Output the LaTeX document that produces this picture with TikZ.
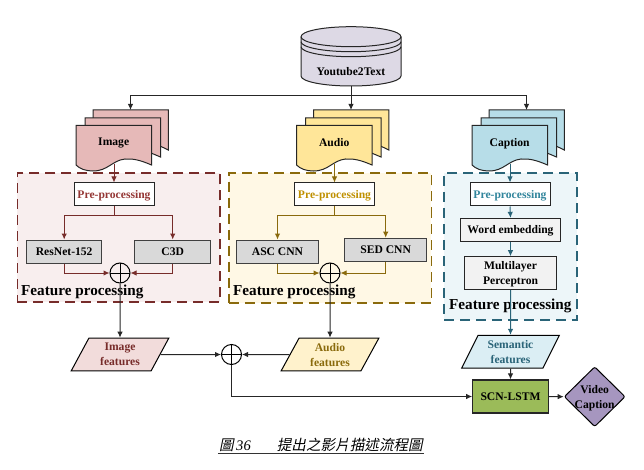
\documentclass[tikz,border=0pt]{standalone}
\usepackage{fontspec}
\usepackage{xcolor}
\setmainfont{Liberation Serif}
\newfontfamily\cjkfont[FakeSlant=0.2]{Noto Sans CJK TC}
\usetikzlibrary{shapes.geometric,arrows.meta}

\definecolor{imgline}{HTML}{772C2A}
\definecolor{imgtext}{HTML}{953735}
\definecolor{imgfill}{HTML}{E6B9B8}
\definecolor{imgpale}{HTML}{F8EEEE}
\definecolor{imgfeat}{HTML}{F2DCDB}
\definecolor{audline}{HTML}{8A6A0C}
\definecolor{audtext}{HTML}{BF9000}
\definecolor{audfill}{HTML}{FFE699}
\definecolor{audpale}{HTML}{FFF8E5}
\definecolor{audfeat}{HTML}{FFF2CC}
\definecolor{capline}{HTML}{2A6478}
\definecolor{captext}{HTML}{31859C}
\definecolor{capfill}{HTML}{B7DDE8}
\definecolor{cappale}{HTML}{EDF6F9}
\definecolor{capfeat}{HTML}{DBEEF4}
\definecolor{dbfill}{HTML}{DDD9E5}
\definecolor{lstmfill}{HTML}{9BBB59}
\definecolor{videofill}{HTML}{A696BF}

\tikzset{
  >={Latex[length=6pt,width=5.5pt]},
  main/.style={line width=1pt, black!85},
  label/.style={font=\fontsize{11.6}{15}\selectfont\bfseries, align=center, inner sep=0pt, text depth=0pt},
  title/.style={font=\fontsize{15.2}{18}\selectfont\bfseries, inner sep=0pt, anchor=west},
  group/.style={draw=#1, line width=1.7pt, dash pattern=on 10pt off 6pt},
  prebox/.style={label, draw=black!85, line width=1pt, fill=white, minimum width=80pt, minimum height=23pt},
  netbox/.style={label, draw=black!75, line width=1pt, fill=black!15, minimum width=#1, minimum height=23pt},
  sumnode/.style={circle, draw=black, line width=1pt, minimum size=20pt, inner sep=0pt,
    path picture={\draw[line width=0.8pt] (path picture bounding box.north) -- (path picture bounding box.south)
      (path picture bounding box.west) -- (path picture bounding box.east);}},
  featnode/.style={label, trapezium, trapezium left angle=63.5, trapezium right angle=116.5, trapezium stretches,
    draw=black, line width=1pt, minimum width=98pt, minimum height=32.7pt},
}

% One stack of three sheets, shifted along x
\newcommand{\docstack}[4]{
\begin{scope}[xshift=#2pt]
\draw[main, fill=#3] (93,125) -- (93,110) -- (168.3,110) -- (168.3,150) -- (160,146) -- (93,146) -- cycle;
\draw[main, fill=#3] (85,125) -- (85,118) -- (160.5,118) -- (160.5,157) -- (151,153) -- (85,153) -- cycle;
\draw[main, fill=#3] (76,125.5) -- (151.5,125.5) -- (151.5,165) .. controls (140,160) and (133,158.5) .. (125,159)
  .. controls (112,160.5) and (108,171) .. (93,171) .. controls (86,171) and (80,169) .. (76,165) -- cycle;
\node[label] (#1) at (113.7,142) {#4};
\coordinate (#1top) at (130.5,110);
\coordinate (#1low) at (114,164);
\end{scope}
}

\begin{document}
\begin{tikzpicture}[x=1pt,y=-1pt]
\useasboundingbox (0,0) rectangle (644,470);

% Draw database
\draw[main, fill=dbfill] (301,36.7) .. controls (301,31.2) and (323,26.7) .. (351,26.7)
  .. controls (379,26.7) and (401,31.2) .. (401,36.7) -- (401,76) .. controls (401,81.5) and (379,86) .. (351,86)
  .. controls (323,86) and (301,81.5) .. (301,76) -- cycle;
\draw[main] (301,36.7) .. controls (301,42.2) and (323,46.7) .. (351,46.7) .. controls (379,46.7) and (401,42.2) .. (401,36.7);
\draw[main] (301,41.7) .. controls (301,47.2) and (323,51.7) .. (351,51.7) .. controls (379,51.7) and (401,47.2) .. (401,41.7);
\draw[main] (301,46.7) .. controls (301,52.2) and (323,56.7) .. (351,56.7) .. controls (379,56.7) and (401,52.2) .. (401,46.7);
\node[label, minimum width=100pt] (youtube) at (351,71) {Youtube2Text};
\coordinate (dbbottom) at (351,86);
\coordinate (dbsplit) at (351,96);

% Draw sheet stacks
\docstack{imagedoc}{0}{imgfill}{Image}
\docstack{audiodoc}{220.5}{audfill}{Audio}
\docstack{captiondoc}{396}{capfill}{Caption}

% Draw dashed groups
\node[group=imgline, fill=imgpale, minimum width=202.5pt, minimum height=129pt] (imagegroup) at (118.7,237.5) {};
\node[group=audline, fill=audpale, minimum width=202.5pt, minimum height=130pt] (audiogroup) at (330.2,238) {};
\node[group=capline, fill=cappale, minimum width=133pt, minimum height=147pt] (captiongroup) at (510.5,246.5) {};

% Draw boxes of Image
\node[prebox, text=imgtext] (imagepre) at (114,194.5) {Pre-processing};
\node[netbox=75.5pt] (resnet) at (64.2,251.5) {ResNet-152};
\node[netbox=75.5pt] (cthreed) at (172.7,251.5) {C3D};
\node[sumnode] (imagesum) at (120,273) {};
\node[title] (imagetitle) at (21,292) {Feature processing};
\coordinate (imagesplit) at (114,215);

% Draw boxes of Audio
\node[prebox, text=audtext] (audiopre) at (334.5,194.5) {Pre-processing};
\node[netbox=82pt] (asccnn) at (277.5,251.5) {ASC CNN};
\node[netbox=82.5pt] (sedcnn) at (385.7,249.7) {SED CNN};
\node[sumnode] (audiosum) at (330,273) {};
\node[title] (audiotitle) at (233,292) {Feature processing};
\coordinate (audiosplit) at (334.5,215);

% Draw boxes of Caption
\node[prebox, text=captext] (captionpre) at (510,194.5) {Pre-processing};
\node[label, draw=black!85, line width=1pt, fill=black!5, minimum width=100.4pt, minimum height=22.7pt] (wordemb) at (510.5,229.7) {Word embedding};
\node[label, draw=black!85, line width=1pt, fill=black!5, minimum width=92pt, minimum height=32.6pt] (mlp) at (510.5,273) {Multilayer\\Perceptron};
\node[title] (captiontitle) at (449,306) {Feature processing};

% Draw features
\node[featnode, fill=imgfeat, text=imgline] (imagefeat) at (120,354.5) {Image\\features};
\node[featnode, fill=audfeat, text=audline] (audiofeat) at (330,354.5) {Audio\\features};
\node[featnode, fill=capfeat, text=capline] (semfeat) at (510.5,351.7) {Semantic\\features};
\node[sumnode] (fusion) at (231.5,354.5) {};

% Draw output
\node[label, draw=black!85, line width=1.2pt, fill=lstmfill, minimum width=75.5pt, minimum height=33pt] (scnlstm) at (510.5,396.5) {SCN-LSTM};
\node[diamond, draw=black, line width=1pt, rounded corners=2pt, fill=videofill, minimum width=61pt, minimum height=60pt, inner sep=0pt] (videonode) at (594.7,396.7) {};
\node[label] (videotext) at (594.7,396.7) {Video\\Caption};

% Draw connectors from database
\draw[main] (dbbottom) -- (dbsplit);
\draw[main, ->] (dbsplit) -| (imagedoctop);
\draw[main, ->] (dbsplit) -- (audiodoctop);
\draw[main, ->] (dbsplit) -| (captiondoctop);

% Draw connectors of Image
\draw[imgline, line width=1pt, ->] (imagedoclow) -- (imagepre.north);
\draw[imgline, line width=1pt] (imagepre.south) -- (imagesplit);
\draw[imgline, line width=1pt, ->] (imagesplit) -| (resnet.north);
\draw[imgline, line width=1pt, ->] (imagesplit) -| (cthreed.north);
\draw[imgline, line width=1pt, ->] (resnet.south) |- (imagesum.west);
\draw[imgline, line width=1pt, ->] (cthreed.south) |- (imagesum.east);
\draw[main, ->] (imagesum.south) -- (imagefeat.north);

% Draw connectors of Audio
\draw[audline, line width=1pt, ->] (audiodoclow) -- (audiopre.north);
\draw[audline, line width=1pt] (audiopre.south) -- (audiosplit);
\draw[audline, line width=1pt, ->] (audiosplit) -| (asccnn.north);
\draw[audline, line width=1pt, ->] (audiosplit) -| (sedcnn.north);
\draw[audline, line width=1pt, ->] (asccnn.south) |- (audiosum.west);
\draw[audline, line width=1pt, ->] (sedcnn.south) |- (audiosum.east);
\draw[main, ->] (audiosum.south) -- (audiofeat.north);

% Draw connectors of Caption
\draw[capline, line width=1pt, ->] (captiondoclow) -- (captionpre.north);
\draw[capline, line width=1pt, ->] (captionpre.south) -- (wordemb.north);
\draw[capline, line width=1pt, ->] (wordemb.south) -- (mlp.north);
\draw[capline, line width=1pt, ->] (mlp.south) -- (semfeat.north);

% Draw connectors to output
\draw[main, ->] (imagefeat.east) -- (fusion.west);
\draw[main, ->] (audiofeat.west) -- (fusion.east);
\draw[main, ->] (fusion.south) |- (scnlstm.west);
\draw[main, ->] (semfeat.south) -- (scnlstm.north);
\draw[main, ->] (scnlstm.east) -- (videonode.west);

% Draw figure title
\node[inner sep=1pt, font=\fontsize{14.6}{16}\selectfont] (figtitle) at (321,445) {{\cjkfont 圖}\,\textit{36}\hspace{26pt}{\cjkfont 提出之影片描述流程圖}};
\draw[black!80, line width=0.6pt] (figtitle.south west) -- (figtitle.south east);
\end{tikzpicture}
\end{document}
